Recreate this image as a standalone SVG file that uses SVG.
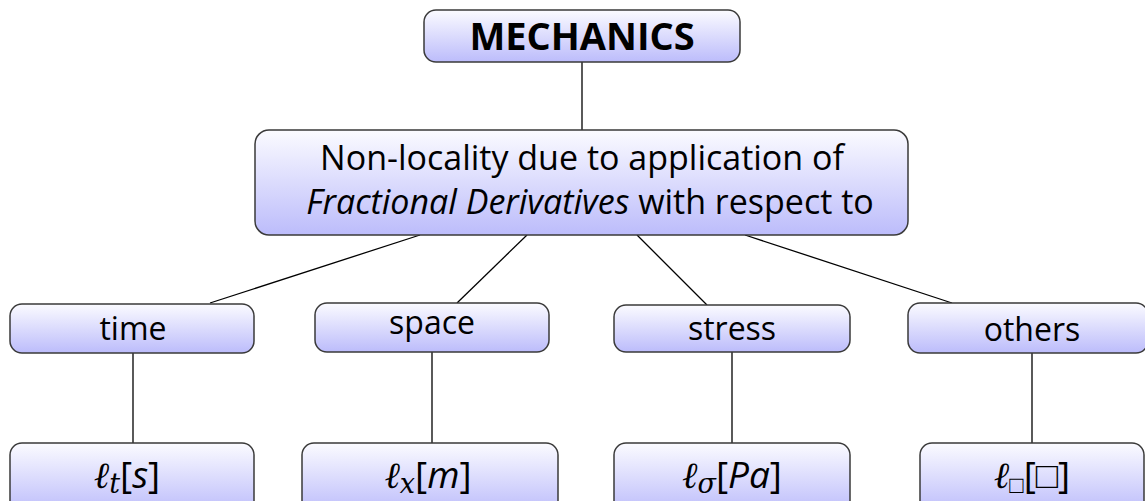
<svg xmlns="http://www.w3.org/2000/svg" width="1145" height="501" viewBox="0 0 1145 501">
<defs>
<linearGradient id="g" x1="0" y1="0" x2="0" y2="1">
<stop offset="0" stop-color="#fbfbff"/>
<stop offset="1" stop-color="#bcbcfb"/>
</linearGradient>
<style>
.box{fill:url(#g);stroke:#3a3a3a;stroke-width:1.5}
.t{font-family:"Open Sans","Liberation Sans",sans-serif;fill:#000;text-anchor:middle}
.c{stroke:#000;stroke-width:1.3;fill:none}
.m{font-family:"DejaVu Serif","Liberation Serif",serif;font-style:italic}
</style>
</defs>
<rect width="1145" height="501" fill="#fff"/>
<g id="connectors">
<line class="c" x1="582" y1="62" x2="582" y2="130"/>
<line class="c" x1="420" y1="235" x2="210" y2="303"/>
<line class="c" x1="527" y1="235" x2="457" y2="303"/>
<line class="c" x1="637" y1="235" x2="707" y2="305"/>
<line class="c" x1="745" y1="235" x2="952" y2="303"/>
<line class="c" x1="133" y1="353" x2="133" y2="443"/>
<line class="c" x1="432" y1="352" x2="432" y2="443"/>
<line class="c" x1="732" y1="352" x2="732" y2="443"/>
<line class="c" x1="1032" y1="353" x2="1032" y2="443"/>
</g>
<g id="mechanics">
<rect class="box" x="424" y="10" width="316" height="52" rx="12"/>
<text class="t" x="582" y="50" font-size="38" font-weight="bold">MECHANICS</text>
</g>
<g id="nonlocality">
<rect class="box" x="255" y="130" width="653" height="105" rx="14"/>
<text class="t" x="582" y="170" font-size="34">Non-locality due to application of</text>
<text class="t" x="590" y="214" font-size="34"><tspan font-style="italic">Fractional Derivatives</tspan> with respect to</text>
</g>
<g id="time">
<rect class="box" x="10" y="304" width="244" height="49" rx="12"/>
<text class="t" x="133" y="340" font-size="32">time</text>
</g>
<g id="space">
<rect class="box" x="315" y="303" width="234" height="49" rx="12"/>
<text class="t" x="432" y="334" font-size="32">space</text>
</g>
<g id="stress">
<rect class="box" x="614" y="305" width="236" height="47" rx="12"/>
<text class="t" x="732" y="340" font-size="32">stress</text>
</g>
<g id="others">
<rect class="box" x="908" y="303" width="240" height="50" rx="12"/>
<text class="t" x="1032" y="341" font-size="32">others</text>
</g>
<g id="lt">
<rect class="box" x="10" y="443" width="244" height="70" rx="12"/>
<text class="t" x="127" y="488" font-size="37"><tspan class="m">ℓ</tspan><tspan class="m" font-size="27" dy="5">t</tspan><tspan dy="-5">[</tspan><tspan font-style="italic">s</tspan>]</text>
</g>
<g id="lx">
<rect class="box" x="302" y="443" width="256" height="70" rx="12"/>
<text class="t" x="428" y="488" font-size="37"><tspan class="m">ℓ</tspan><tspan class="m" font-size="27" dy="5">x</tspan><tspan dy="-5">[</tspan><tspan font-style="italic">m</tspan>]</text>
</g>
<g id="lsigma">
<rect class="box" x="614" y="443" width="236" height="70" rx="12"/>
<text class="t" x="732" y="488" font-size="37"><tspan class="m">ℓ</tspan><tspan class="m" font-size="27" dy="5">σ</tspan><tspan dy="-5">[</tspan><tspan font-style="italic">Pa</tspan>]</text>
</g>
<g id="lbox">
<rect class="box" x="920" y="443" width="224" height="70" rx="12"/>
<text class="t" x="1032" y="488" font-size="37"><tspan class="m">ℓ</tspan><tspan font-size="24" dy="5">□</tspan><tspan dy="-5">[□]</tspan></text>
</g>
</svg>
